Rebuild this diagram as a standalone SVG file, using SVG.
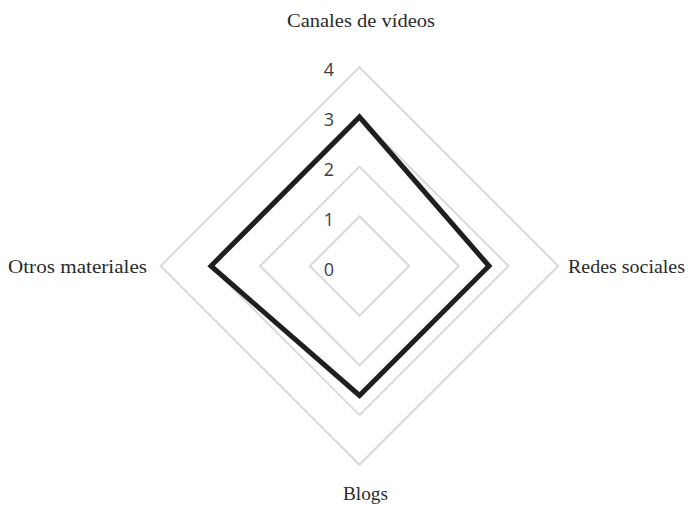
<svg xmlns="http://www.w3.org/2000/svg" width="689" height="505" viewBox="0 0 689 505">
<style>
.grid{fill:none;stroke:#d9d9d9;stroke-width:2}
.data{fill:none;stroke:#1f1f1f;stroke-width:5;stroke-linejoin:miter}
.tick{font-family:"Open Sans","Liberation Sans",sans-serif;font-size:18px;fill:#404040;text-anchor:middle}
.cat{font-family:"Liberation Serif",serif;font-size:18px;fill:#2b2b2b;lengthAdjust:spacingAndGlyphs}
</style>
<rect width="689" height="505" fill="#ffffff"/>
<g id="grid">
<polygon class="grid" points="359.5,216.3 409.2,266 359.5,315.7 309.8,266"/>
<polygon class="grid" points="359.5,166.6 458.9,266 359.5,365.4 260.1,266"/>
<polygon class="grid" points="359.5,116.9 508.6,266 359.5,415.1 210.4,266"/>
<polygon class="grid" points="359.5,67.2 558.3,266 359.5,464.8 160.7,266"/>
</g>
<g id="ticks">
<text class="tick" x="329" y="76">4</text>
<text class="tick" x="329" y="126">3</text>
<text class="tick" x="329" y="176">2</text>
<text class="tick" x="329" y="226">1</text>
<text class="tick" x="329" y="276">0</text>
</g>
<g id="series">
<polygon class="data" points="359.5,117 489,266 359.5,395.5 211,266"/>
</g>
<g id="label-canales"><text class="cat" x="287" y="27" textLength="148" lengthAdjust="spacingAndGlyphs">Canales de vídeos</text></g>
<g id="label-redes"><text class="cat" x="568" y="273" textLength="117" lengthAdjust="spacingAndGlyphs">Redes sociales</text></g>
<g id="label-blogs"><text class="cat" x="343" y="500" textLength="45" lengthAdjust="spacingAndGlyphs">Blogs</text></g>
<g id="label-otros"><text class="cat" x="8" y="273" textLength="139" lengthAdjust="spacingAndGlyphs">Otros materiales</text></g>
</svg>
